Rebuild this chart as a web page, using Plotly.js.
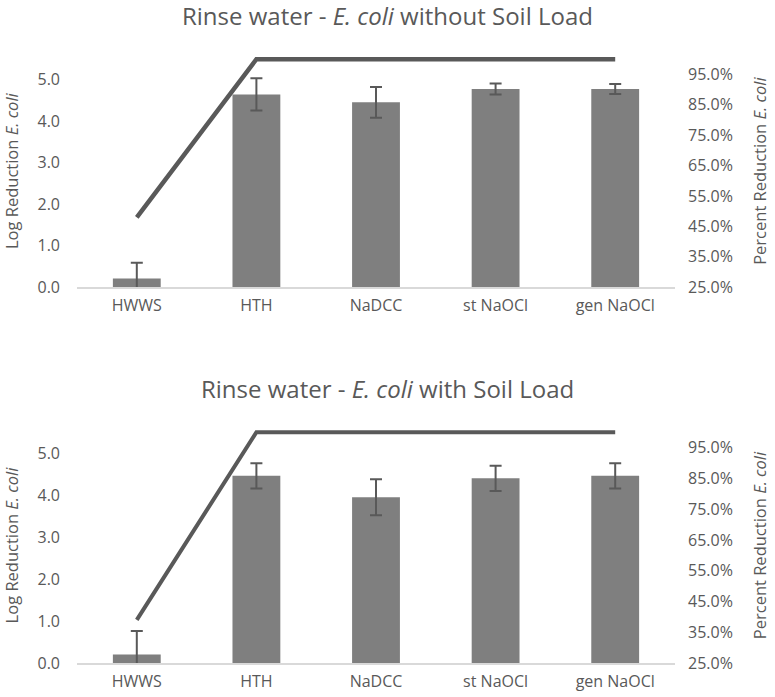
<!DOCTYPE html>
<html><head><meta charset="utf-8">
<script src="https://cdn.plot.ly/plotly-3.0.1.min.js"></script>
<style>html,body{margin:0;padding:0;background:#fff;}</style>
</head><body>
<div id="chart" style="width:775px;height:697px;"></div>
<script>
const categories = ["HWWS", "HTH", "NaDCC", "st NaOCl", "gen NaOCl"];
// Top: without soil load
const logTop = [0.21, 4.65, 4.46, 4.78, 4.78];
const errTop = [0.38, 0.39, 0.37, 0.13, 0.12];
const pctTop = [0.48, 0.9999, 0.9999, 0.9999, 0.9999];
// Bottom: with soil load
const logBottom = [0.20, 4.46, 3.95, 4.40, 4.46];
const errBottom = [0.56, 0.30, 0.43, 0.30, 0.30];
const pctBottom = [0.39, 0.9999, 0.9999, 0.9999, 0.9999];

const leftTicks = [0, 1, 2, 3, 4, 5];
const rightTicks = [0.25, 0.35, 0.45, 0.55, 0.65, 0.75, 0.85, 0.95];

const grey = '#595959';
const font = 'Open Sans, sans-serif';

function bar(y, err, xa, ya) {
  return {type: 'bar', x: categories, y: y, xaxis: xa, yaxis: ya,
    marker: {color: '#7f7f7f'},
    error_y: {type: 'data', array: err, visible: true, color: grey, thickness: 2, width: 6},
    hoverinfo: 'none', showlegend: false};
}
function line(y, xa, ya, w) {
  return {type: 'scatter', mode: 'lines', x: categories, y: y, xaxis: xa, yaxis: ya,
    line: {color: grey, width: w}, hoverinfo: 'none', showlegend: false};
}

const data = [
  bar(logTop, errTop, 'x', 'y'),
  line(pctTop, 'x', 'y2', 4.5),
  bar(logBottom, errBottom, 'x2', 'y3'),
  line(pctBottom, 'x2', 'y4', 4),
];

const tf = {family: font, size: 16, color: grey};
const ttf = {family: font, size: 16.5, color: grey};
function xax(anchor) {
  return {domain: [0, 1], anchor: anchor, type: 'category', showline: true, linecolor: '#d9d9d9',
    linewidth: 2, ticks: '', tickfont: tf, showgrid: false, zeroline: false, ticklabelstandoff: 3};
}
function yleft(domain, anchor) {
  return {domain: domain, anchor: anchor, range: [0, 5.6], tickvals: leftTicks, tickformat: '.1f',
    showgrid: false, zeroline: false, showline: false, ticks: '', tickfont: tf, ticklabelstandoff: 16,
    title: {text: 'Log Reduction <i>E. coli</i>', font: ttf, standoff: 16}};
}
function yright(over, anchor) {
  return {overlaying: over, anchor: anchor, side: 'right', range: [0.25, 1.0136], tickvals: rightTicks,
    tickformat: '.1%', showgrid: false, zeroline: false, showline: false, ticks: '', tickfont: tf,
    ticklabelstandoff: 12,
    title: {text: 'Percent Reduction <i>E. coli</i>', font: ttf, standoff: 22}};
}

const layout = {
  width: 775, height: 697,
  margin: {l: 77, r: 100, t: 55, b: 34},
  paper_bgcolor: '#fff', plot_bgcolor: '#fff',
  bargap: 0.6,
  font: {family: font, color: grey},
  xaxis: xax('y'),
  yaxis: yleft([0.618, 1], 'x'),
  yaxis2: yright('y', 'x'),
  xaxis2: xax('y3'),
  yaxis3: yleft([0, 0.3865], 'x2'),
  yaxis4: yright('y3', 'x2'),
  annotations: [
    {text: 'Rinse water - <i>E. coli</i> without Soil Load', xref: 'paper', yref: 'paper',
     x: 0.52, y: 1, yanchor: 'middle', yshift: 40, showarrow: false, font: {family: font, size: 24, color: grey}},
    {text: 'Rinse water - <i>E. coli</i> with Soil Load', xref: 'paper', yref: 'paper',
     x: 0.52, y: 0.3865, yanchor: 'middle', yshift: 40, showarrow: false, font: {family: font, size: 24, color: grey}}
  ]
};

Plotly.newPlot('chart', data, layout, {staticPlot: true, displayModeBar: false});
</script>
</body></html>
